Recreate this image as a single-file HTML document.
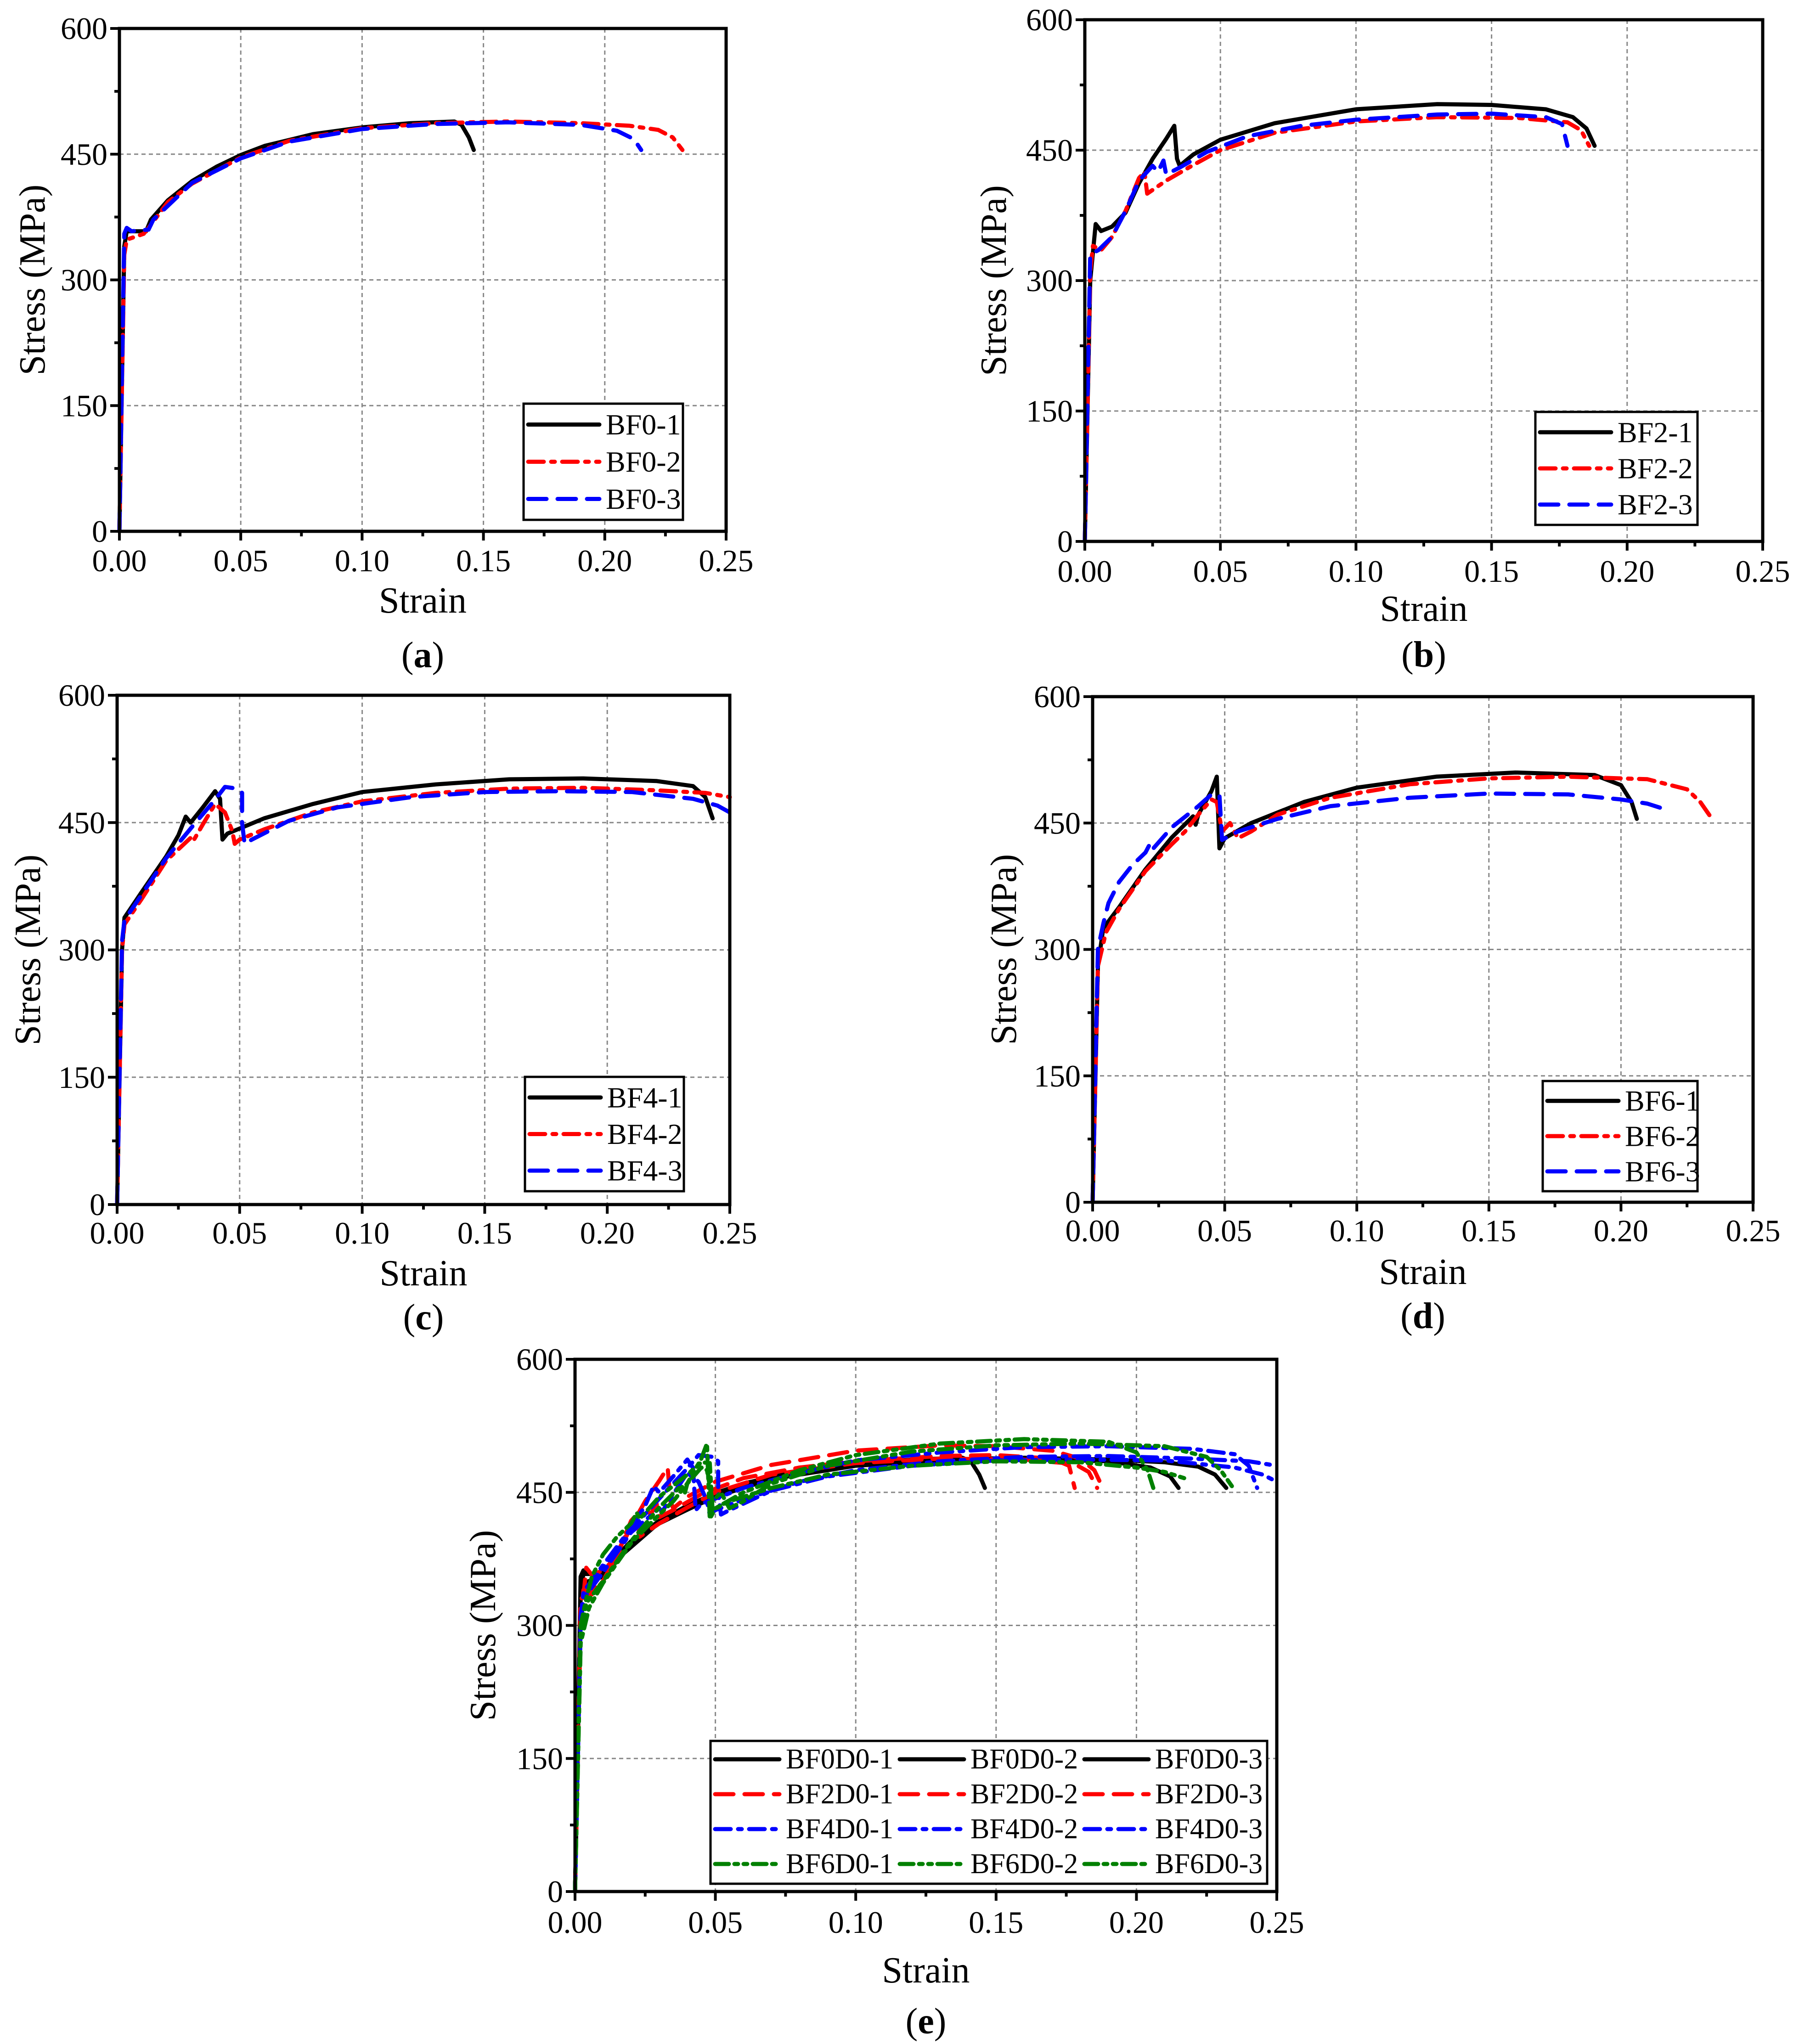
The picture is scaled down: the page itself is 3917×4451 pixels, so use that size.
<!DOCTYPE html>
<html><head><meta charset="utf-8">
<style>
html,body{margin:0;padding:0;background:#fff;}
svg{display:block;}
svg text{font-family:"Liberation Serif","Times New Roman",Times,serif;}
</style></head>
<body>
<svg id="fig" width="3917" height="4451" viewBox="0 0 3917 4451" xmlns="http://www.w3.org/2000/svg" font-family="Liberation Serif, Times New Roman, serif"></svg>
<script>
// ---- data (strain, stress MPa) ----
const xTicks = [0, 0.05, 0.10, 0.15, 0.20, 0.25];
const xTickLabels = ["0.00","0.05","0.10","0.15","0.20","0.25"];
const yTicks = [0, 150, 300, 450, 600];
const yTickLabels = ["0","150","300","450","600"];

const bf0_1 = [[0,0],[0.002,340],[0.003,358],[0.011,358],[0.013,372],[0.02,395],[0.03,418],[0.04,435],[0.05,449],[0.06,460],[0.08,474],[0.10,482],[0.12,487],[0.138,489],[0.141,485],[0.144,470],[0.146,455]];
const bf0_2 = [[0,0],[0.002,330],[0.003,348],[0.01,355],[0.012,362],[0.02,393],[0.03,415],[0.05,446],[0.07,466],[0.10,481],[0.13,487],[0.16,489],[0.19,487],[0.21,484],[0.222,479],[0.228,470],[0.232,455]];
const bf0_3 = [[0,0],[0.002,355],[0.003,362],[0.005,358],[0.012,360],[0.014,372],[0.03,416],[0.05,445],[0.07,465],[0.10,480],[0.13,486],[0.16,488],[0.19,485],[0.205,478],[0.212,468],[0.215,455]];
const bf2_1 = [[0,0],[0.002,300],[0.004,365],[0.006,357],[0.01,362],[0.015,378],[0.02,412],[0.025,440],[0.03,463],[0.033,478],[0.034,440],[0.035,432],[0.04,445],[0.05,462],[0.07,481],[0.10,497],[0.13,503],[0.15,502],[0.17,497],[0.18,488],[0.185,475],[0.188,455]];
const bf2_2 = [[0,0],[0.002,310],[0.003,340],[0.006,335],[0.01,350],[0.015,380],[0.02,418],[0.022,425],[0.023,400],[0.03,415],[0.04,433],[0.05,450],[0.07,470],[0.10,483],[0.13,488],[0.16,487],[0.178,482],[0.183,473],[0.186,455]];
const bf2_3 = [[0,0],[0.002,330],[0.005,335],[0.01,350],[0.015,380],[0.02,415],[0.025,432],[0.027,425],[0.029,438],[0.03,422],[0.035,430],[0.045,448],[0.06,466],[0.08,478],[0.10,485],[0.13,491],[0.15,492],[0.17,488],[0.176,480],[0.178,455]];
const bf4_1 = [[0,0],[0.002,300],[0.003,338],[0.01,368],[0.02,410],[0.025,435],[0.028,457],[0.03,450],[0.035,468],[0.04,487],[0.042,478],[0.043,430],[0.045,437],[0.06,455],[0.08,472],[0.10,486],[0.13,495],[0.16,501],[0.19,502],[0.22,499],[0.235,493],[0.24,480],[0.243,455]];
const bf4_2 = [[0,0],[0.002,300],[0.003,330],[0.01,360],[0.02,405],[0.03,432],[0.031,428],[0.035,448],[0.04,472],[0.044,462],[0.047,440],[0.048,425],[0.05,430],[0.06,442],[0.08,462],[0.10,475],[0.13,485],[0.16,490],[0.19,491],[0.22,488],[0.24,485],[0.25,480]];
const bf4_3 = [[0,0],[0.002,310],[0.003,335],[0.01,365],[0.02,408],[0.03,443],[0.04,477],[0.044,492],[0.049,490],[0.051,485],[0.051,450],[0.052,425],[0.055,430],[0.07,452],[0.09,468],[0.12,480],[0.15,486],[0.18,487],[0.21,486],[0.235,478],[0.245,470],[0.25,462]];
const bf6_1 = [[0,0],[0.002,280],[0.004,325],[0.01,350],[0.02,395],[0.03,433],[0.038,458],[0.039,448],[0.04,460],[0.045,488],[0.047,505],[0.048,420],[0.05,432],[0.06,450],[0.08,475],[0.10,492],[0.13,505],[0.16,510],[0.19,507],[0.2,495],[0.204,475],[0.206,455]];
const bf6_2 = [[0,0],[0.002,280],[0.005,320],[0.01,348],[0.02,393],[0.03,425],[0.035,440],[0.04,460],[0.045,478],[0.047,475],[0.049,440],[0.052,450],[0.055,432],[0.06,440],[0.07,460],[0.09,480],[0.12,496],[0.15,503],[0.18,505],[0.21,502],[0.225,490],[0.23,475],[0.234,457]];
const bf6_3 = [[0,0],[0.002,300],[0.004,330],[0.006,355],[0.01,380],[0.015,400],[0.02,415],[0.022,427],[0.023,420],[0.03,445],[0.04,470],[0.045,484],[0.048,483],[0.049,430],[0.055,440],[0.07,455],[0.09,470],[0.12,480],[0.15,485],[0.18,484],[0.2,478],[0.21,473],[0.217,466]];

const NS = "http://www.w3.org/2000/svg";
const svg = document.getElementById('fig');
function mk(tag, attrs, parent){
  const e = document.createElementNS(NS, tag);
  for (const k in attrs) e.setAttribute(k, attrs[k]);
  (parent||svg).appendChild(e);
  return e;
}
// Times-like advance widths (em) to fix text extents regardless of installed font
const TW = {'B':.667,'F':.556,'D':.722,'-':.333,'.':.25,'S':.556,'t':.278,'r':.333,'a':.444,'i':.278,'n':.5,'e':.444,'s':.389,' ':.25,'(':.333,')':.333,'M':.889,'P':.556};
function tlen(str, fs){ let w=0; for(const c of str) w += (TW[c]!==undefined?TW[c]:.5); return w*fs; }
function fit(el, str, fs){ el.setAttribute('textLength', tlen(str,fs).toFixed(1)); el.setAttribute('lengthAdjust','spacingAndGlyphs'); }

const STY = {
  solid:{c:"#000", d:"none"},
  dashdot:{c:"#ff0000", d:"34,16,8,16"},
  dash:{c:"#0000ff", d:"40,24"},
  rdash:{c:"#ff0000", d:"40,24"},
  bdashdot:{c:"#0000ff", d:"34,16,8,16"},
  gdd:{c:"#008000", d:"30,12,8,12,8,12"}
};
const LW = 9;

function panel(p){
  const g = mk('g', {});
  
  
  const sx = v => p.x0 + (v/0.25)*(p.x1-p.x0);
  const sy = v => p.yb - (v/600)*(p.yb-p.yt);
  xTicks.forEach((t,i)=>{ if(i>0 && i<xTicks.length-1){
    const l = mk('line',{x1:sx(t),x2:sx(t),y1:p.yt,y2:p.yb,stroke:"#888","stroke-width":3,"stroke-dasharray":"9,7"},g);
    
    
  }});
  yTicks.forEach((t,i)=>{ if(i>0 && i<yTicks.length-1){
    const l = mk('line',{x1:p.x0,x2:p.x1,y1:sy(t),y2:sy(t),stroke:"#888","stroke-width":3,"stroke-dasharray":"9,7"},g);
    
    
  }});
  p.series.forEach(s=>{
    const st = STY[s.style];
    const d = s.data.map((pt,i)=>(i?'L':'M')+sx(pt[0]).toFixed(1)+','+sy(pt[1]).toFixed(1)).join(' ');
    const pa = mk('path',{d:d,fill:"none",stroke:st.c,"stroke-width":LW,"stroke-dasharray":st.d,"stroke-linejoin":"round","stroke-linecap":"round"},g);
    
    
  });
  const fr = mk('rect',{x:p.x0,y:p.yt,width:p.x1-p.x0,height:p.yb-p.yt,fill:"none",stroke:"#000","stroke-width":7},g);
  
  
  for(let i=0;i<=10;i++){
    const v=i*0.025, major=(i%2===0);
    mk('line',{x1:sx(v),x2:sx(v),y1:p.yb,y2:p.yb+(major?20:11),stroke:"#000","stroke-width":6},g);
  }
  for(let i=0;i<=8;i++){
    const v=i*75, major=(i%2===0);
    mk('line',{x1:p.x0,x2:p.x0-(major?20:11),y1:sy(v),y2:sy(v),stroke:"#000","stroke-width":6},g);
  }
  xTicks.forEach((t,i)=>{
    const tx = mk('text',{x:sx(t),y:p.yb+p.tk,"font-size":68,"text-anchor":"middle","dominant-baseline":"central"},g);
    tx.textContent = xTickLabels[i];
    fit(tx, xTickLabels[i], 68);
    
    
  });
  yTicks.forEach((t,i)=>{
    const tx = mk('text',{x:p.x0-26,y:sy(t),"font-size":68,"text-anchor":"end","dominant-baseline":"central"},g);
    tx.textContent = yTickLabels[i];
    fit(tx, yTickLabels[i], 68);
    
    
  });
  const xt = mk('text',{x:(p.x0+p.x1)/2,y:p.yb+p.st,"font-size":80,"text-anchor":"middle","dominant-baseline":"central"},g);
  xt.textContent = "Strain";
  fit(xt, "Strain", 80);
  
  
  const yc = (p.yt+p.yb)/2, yx = p.x0 + p.yx;
  const yt = mk('text',{x:yx,y:yc,"font-size":80,"text-anchor":"middle","dominant-baseline":"central",transform:`rotate(-90 ${yx} ${yc})`},g);
  yt.textContent = "Stress (MPa)";
  fit(yt, "Stress (MPa)", 80);
  
  
  const pl = mk('text',{x:(p.x0+p.x1)/2,y:p.yb+p.pl,"font-size":80,"text-anchor":"middle","dominant-baseline":"central"},g);
  pl.innerHTML = `(<tspan font-weight="bold">${p.id}</tspan>)`;
  
  
  const L = p.leg;
  const lg = mk('g',{},g);
  
  
  mk('rect',{x:L.x,y:L.y,width:L.w,height:L.h,fill:"#fff",stroke:"#000","stroke-width":5},lg);
  p.series.forEach((s,i)=>{
    const col = i % L.cols, row = Math.floor(i / L.cols);
    const bx = L.x + 10 + col*L.cw, by = L.y + L.r0 + row*L.rh;
    const st = STY[s.style];
    mk('line',{x1:bx,x2:bx+L.lw,y1:by,y2:by,stroke:st.c,"stroke-width":LW,"stroke-dasharray":st.d,"stroke-linecap":"round"},lg);
    const t = mk('text',{x:bx+L.lw+14,y:by,"font-size":L.fs,"dominant-baseline":"central"},lg);
    t.textContent = s.name;
    fit(t, s.name, L.fs);
    
    
  });
}

const leg3 = (x,y,w,h)=>({x:x,y:y,w:w,h:h,cols:1,cw:0,r0:h*0.18,rh:h*0.32,lw:155,fs:64});
panel({id:"a",x0:260,x1:1581,yt:62,yb:1157,tk:64,st:151,pl:270,yx:-189,
  leg:leg3(1140,879,347,253),
  series:[{name:"BF0-1",data:bf0_1,style:"solid"},{name:"BF0-2",data:bf0_2,style:"dashdot"},{name:"BF0-3",data:bf0_3,style:"dash"}]});
panel({id:"b",x0:2362,x1:3838,yt:43,yb:1179,tk:65,st:147,pl:247,yx:-198,
  leg:leg3(3343,897,353,246),
  series:[{name:"BF2-1",data:bf2_1,style:"solid"},{name:"BF2-2",data:bf2_2,style:"dashdot"},{name:"BF2-3",data:bf2_3,style:"dash"}]});
panel({id:"c",x0:255,x1:1589,yt:1514,yb:2623,tk:62,st:150,pl:246,yx:-194,
  leg:leg3(1143,2345,346,249),
  series:[{name:"BF4-1",data:bf4_1,style:"solid"},{name:"BF4-2",data:bf4_2,style:"dashdot"},{name:"BF4-3",data:bf4_3,style:"dash"}]});
panel({id:"d",x0:2379,x1:3817,yt:1517,yb:2618,tk:62,st:152,pl:248,yx:-193,
  leg:leg3(3359,2354,337,240),
  series:[{name:"BF6-1",data:bf6_1,style:"solid"},{name:"BF6-2",data:bf6_2,style:"dashdot"},{name:"BF6-3",data:bf6_3,style:"dash"}]});
panel({id:"e",x0:1252,x1:2780,yt:2960,yb:4119,tk:67,st:172,pl:283,yx:-200,
  leg:{x:1547,y:3791,w:1212,h:311,cols:3,cw:402,r0:40,rh:76,lw:140,fs:62},
  series:[
    {name:"BF0D0-1",data:bf0_1,style:"solid"},{name:"BF0D0-2",data:bf0_3,style:"solid"},{name:"BF0D0-3",data:bf0_2,style:"solid"},
    {name:"BF2D0-1",data:bf2_1,style:"rdash"},{name:"BF2D0-2",data:bf2_2,style:"rdash"},{name:"BF2D0-3",data:bf2_3,style:"rdash"},
    {name:"BF4D0-1",data:bf4_1,style:"bdashdot"},{name:"BF4D0-2",data:bf4_2,style:"bdashdot"},{name:"BF4D0-3",data:bf4_3,style:"bdashdot"},
    {name:"BF6D0-1",data:bf6_1,style:"gdd"},{name:"BF6D0-2",data:bf6_2,style:"gdd"},{name:"BF6D0-3",data:bf6_3,style:"gdd"}]});
</script>
</body></html>
